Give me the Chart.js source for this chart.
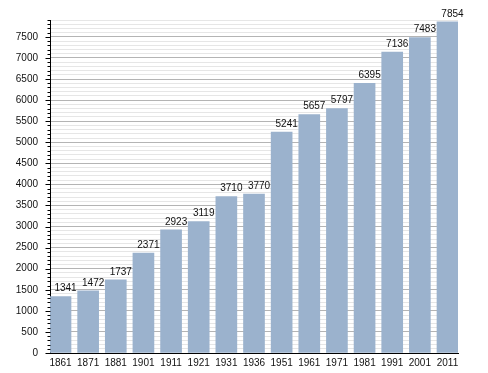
<!DOCTYPE html>
<html>
<head>
<meta charset="utf-8">
<script src="https://cdn.jsdelivr.net/npm/chart.js@4/dist/chart.umd.min.js"></script>
<style>
  html, body { margin: 0; padding: 0; background: #fff; }
  #wrap { width: 488px; height: 373px; }
</style>
</head>
<body>
<div id="wrap"><canvas id="popChart" width="488" height="373"></canvas></div>
<script>
// census years and population
const years = ['1861','1871','1881','1901','1911','1921','1931','1936','1951','1961','1971','1981','1991','2001','2011'];
const population = [1341,1472,1737,2371,2923,3119,3710,3770,5241,5657,5797,6395,7136,7483,7854];
const yMax = 7900;
const yMajorStep = 500;
const yMinorStep = 100;

const barColor = 'rgb(155,178,205)';
const font = { family: '"Liberation Sans", Arial, sans-serif', size: 10 };

// small ticks on the y axis, longer ones at the labelled values
const axisTicks = {
  id: 'axisTicks',
  afterDraw(chart) {
    const y = chart.scales.y, ctx = chart.ctx;
    const x0 = Math.round(y.right) + 0.5;
    ctx.save();
    ctx.strokeStyle = '#000';
    ctx.lineWidth = 1;
    y.ticks.forEach(t => {
      const py = Math.round(y.getPixelForValue(t.value)) + 0.5;
      const len = t.value % yMajorStep === 0 ? 5 : 3;
      ctx.beginPath();
      ctx.moveTo(x0 - len, py);
      ctx.lineTo(x0, py);
      ctx.stroke();
    });
    ctx.restore();
  }
};

// value labels above the bars
const valueLabels = {
  id: 'valueLabels',
  afterDatasetsDraw(chart) {
    const ctx = chart.ctx;
    const meta = chart.getDatasetMeta(0);
    ctx.save();
    ctx.font = font.size + 'px ' + font.family;
    ctx.fillStyle = '#111';
    ctx.textAlign = 'center';
    ctx.textBaseline = 'bottom';
    meta.data.forEach((bar, i) => {
      ctx.fillText(String(population[i]), bar.x + 5, bar.y - 3);
    });
    ctx.restore();
  }
};

new Chart(document.getElementById('popChart'), {
  type: 'bar',
  data: {
    datasets: [{
      data: population.map((v, i) => ({ x: i, y: v })),
      backgroundColor: barColor,
      borderWidth: 0,
      barThickness: 21
    }]
  },
  options: {
    responsive: false,
    animation: false,
    layout: { padding: { top: 20, right: 30, left: 0, bottom: 0 } },
    plugins: { legend: { display: false }, tooltip: { enabled: false } },
    scales: {
      x: {
        type: 'linear',
        offset: false,
        min: -0.38,
        max: 14.38,
        afterFit: s => { s.height = 20; },
        grid: { display: false, drawTicks: false, offset: false },
        border: { color: '#000', width: 1 },
        ticks: {
          stepSize: 1,
          includeBounds: false,
          autoSkip: false,
          maxRotation: 0,
          padding: 4,
          color: '#111',
          font: font,
          callback: v => Number.isInteger(v) && years[v] ? years[v] : ''
        }
      },
      y: {
        min: 0,
        max: yMax,
        afterFit: s => { s.width = 50; },
        border: { color: '#000', width: 1 },
        grid: {
          drawTicks: false,
          color: c => c.tick && c.tick.value % yMajorStep === 0 ? '#b4b4b4' : '#e6e6e6'
        },
        ticks: {
          stepSize: yMinorStep,
          includeBounds: false,
          autoSkip: false,
          padding: 12,
          color: '#111',
          font: font,
          callback: v => v % yMajorStep === 0 ? String(v) : ''
        }
      }
    }
  },
  plugins: [axisTicks, valueLabels]
});
</script>
</body>
</html>
